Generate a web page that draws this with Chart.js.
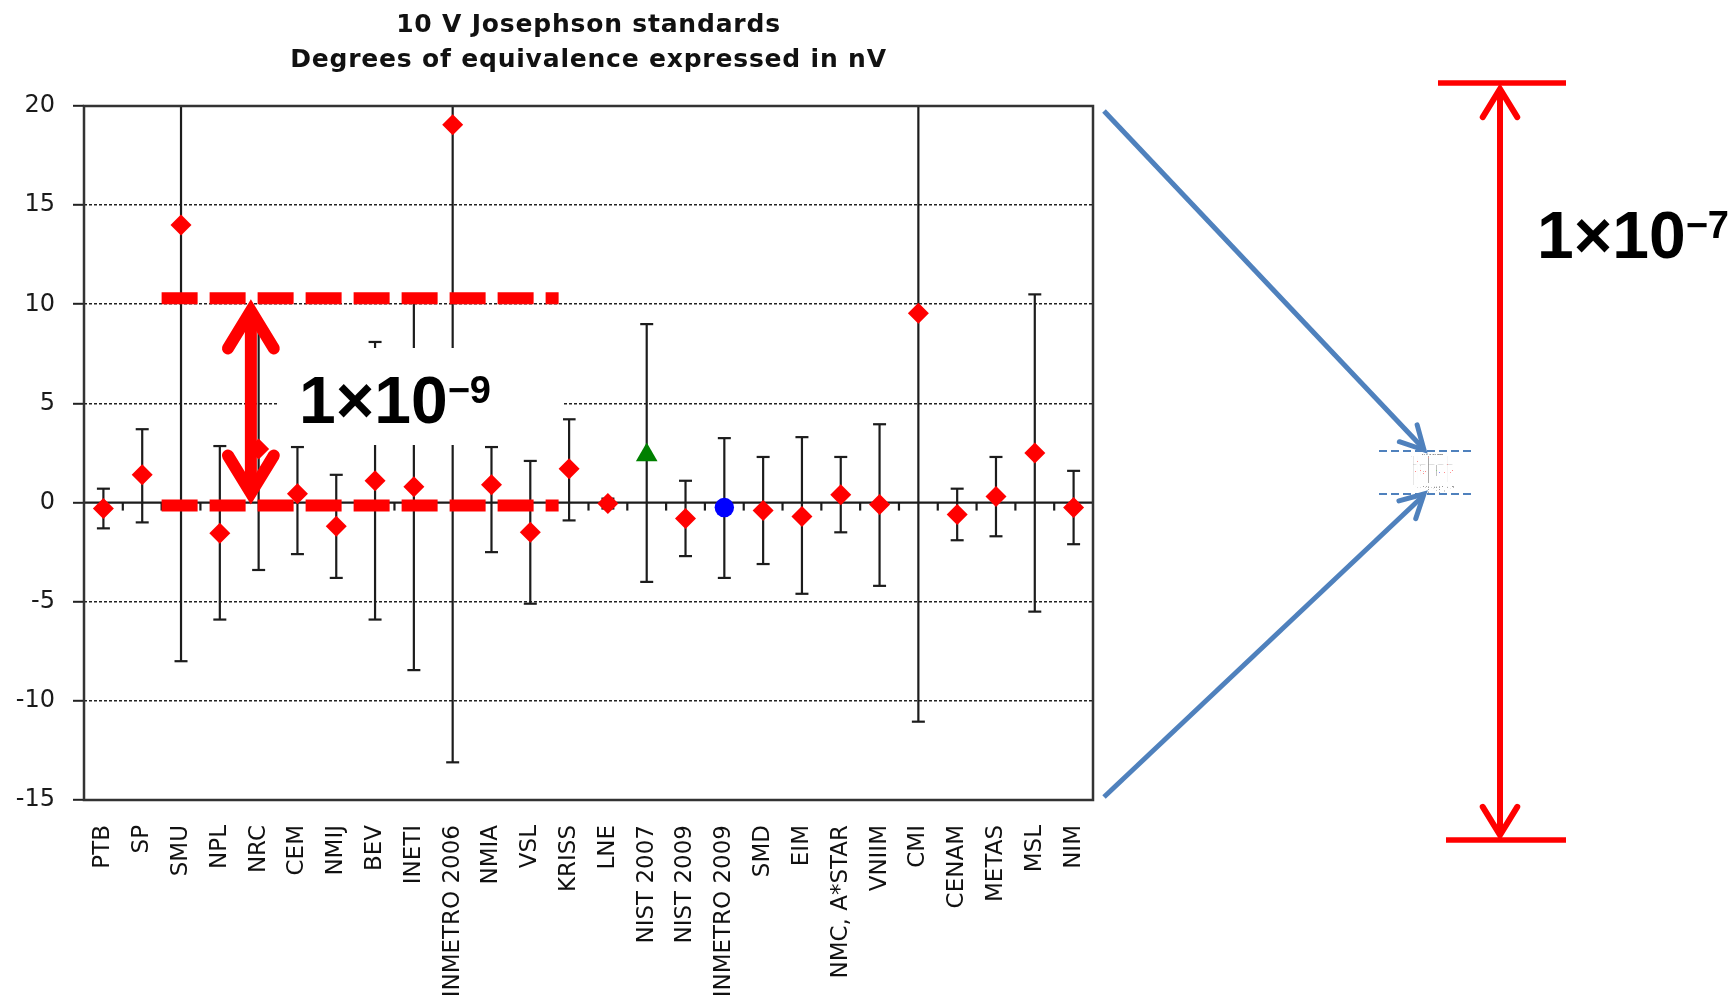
<!DOCTYPE html>
<html>
<head>
<meta charset="utf-8">
<title>10 V Josephson standards</title>
<script src="https://cdn.jsdelivr.net/npm/chart.js@4.4.0/dist/chart.umd.min.js"></script>
<style>
    html, body { margin: 0; padding: 0; background: #fff; }
    canvas { display: block; }
</style>
</head>
<body>
<canvas id="doe-chart" width="1735" height="1000" style="width:1735px;height:1000px"></canvas>
<script>
const labels = [
    'PTB', 'SP', 'SMU', 'NPL', 'NRC', 'CEM', 'NMIJ', 'BEV', 'INETI', 'INMETRO 2006',
    'NMIA', 'VSL', 'KRISS', 'LNE', 'NIST 2007', 'NIST 2009', 'INMETRO 2009', 'SMD',
    'EIM', 'NMC, A*STAR', 'VNIIM', 'CMI', 'CENAM', 'METAS', 'MSL', 'NIM'
];

// degrees of equivalence, nV
const values = [
    -0.3, 1.4, 14.0, -1.55, 2.7, 0.45, -1.2, 1.1, 0.8, 19.05,
    0.9, -1.5, 1.7, -0.05, 2.4, -0.8, -0.25, -0.4,
    -0.7, 0.4, -0.1, 9.55, -0.6, 0.3, 2.5, -0.25
];

// error bar limits (low / high)
const errLow = [
    -1.3, -1.0, -8.0, -5.9, -3.4, -2.6, -3.8, -5.9, -8.45, -13.1,
    -2.5, -5.1, -0.9, -0.3, -4.0, -2.7, -3.8, -3.1,
    -4.6, -1.5, -4.2, -11.05, -1.9, -1.7, -5.5, -2.1
];
const errHigh = [
    0.7, 3.7, 36.0, 2.85, 8.8, 2.8, 1.4, 8.1, 10.1, 51.0,
    2.8, 2.1, 4.2, 0.2, 9.0, 1.1, 3.25, 2.3,
    3.3, 2.3, 3.95, 30.0, 0.7, 2.3, 10.5, 1.6
];

// marker per lab
const markers = labels.map((l, i) => i === 14 ? 'triangle' : (i === 16 ? 'circle' : 'diamond'));

const yTicks = [-15, -10, -5, 0, 5, 10, 15, 20];

const titleLines = ['10 V Josephson standards', 'Degrees of equivalence expressed in nV'];

// red dashed band drawn on the chart (nV)
const bandTop = 10.3;
const bandBottom = -0.15;

const markerStyle = { diamond: 'rectRot', triangle: 'triangle', circle: 'circle' };
const markerColor = { diamond: '#ff0000', triangle: '#008000', circle: '#0000ff' };
const markerRadius = { diamond: 10.5, triangle: 12.5, circle: 9.7 };

function line(ctx, x1, y1, x2, y2) {
    ctx.beginPath();
    ctx.moveTo(x1, y1);
    ctx.lineTo(x2, y2);
    ctx.stroke();
}

function chevron(ctx, tipX, tipY, back, spread, len) {
    ctx.beginPath();
    ctx.moveTo(tipX + len * Math.cos(back - spread), tipY + len * Math.sin(back - spread));
    ctx.lineTo(tipX, tipY);
    ctx.lineTo(tipX + len * Math.cos(back + spread), tipY + len * Math.sin(back + spread));
    ctx.stroke();
}

function drawZeroAxisAndErrors(chart) {
    const ctx = chart.ctx;
    const area = chart.chartArea;
    const xs = chart.scales.x;
    const ys = chart.scales.y;

    ctx.save();
    ctx.strokeStyle = '#1c1c1c';
    ctx.lineWidth = 2.2;
    const y0 = ys.getPixelForValue(0);
    line(ctx, area.left, y0, area.right, y0);
    for (let k = 1; k < labels.length; k++) {
        const xb = (xs.getPixelForValue(k - 1) + xs.getPixelForValue(k)) / 2;
        line(ctx, xb, y0, xb, y0 + 8);
    }

    ctx.beginPath();
    ctx.rect(area.left, area.top, area.right - area.left, area.bottom - area.top);
    ctx.clip();
    labels.forEach((l, i) => {
        const x = xs.getPixelForValue(i);
        const yl = ys.getPixelForValue(errLow[i]);
        const yh = ys.getPixelForValue(errHigh[i]);
        line(ctx, x, yl, x, yh);
        line(ctx, x - 6.5, yl, x + 6.5, yl);
        line(ctx, x - 6.5, yh, x + 6.5, yh);
    });
    ctx.restore();
}

function drawFrameAndTitle(chart) {
    const ctx = chart.ctx;
    const area = chart.chartArea;
    ctx.save();
    ctx.strokeStyle = '#333';
    ctx.lineWidth = 2.5;
    ctx.strokeRect(area.left, area.top, area.right - area.left, area.bottom - area.top);

    ctx.fillStyle = '#111';
    ctx.font = 'bold 25px "DejaVu Sans"';
    ctx.letterSpacing = '0.8px';
    ctx.textAlign = 'center';
    ctx.textBaseline = 'middle';
    const cx = (area.left + area.right) / 2;
    ctx.fillText(titleLines[0], cx, 25);
    ctx.fillText(titleLines[1], cx, 60);
    ctx.restore();
}

function drawPower(ctx, x, baseline, exp) {
    ctx.fillStyle = '#000';
    ctx.textAlign = 'left';
    ctx.textBaseline = 'alphabetic';
    ctx.font = 'bold 66px "Liberation Sans"';
    ctx.fillText('1×10', x, baseline);
    const w = ctx.measureText('1×10').width;
    ctx.font = 'bold 38px "Liberation Sans"';
    ctx.fillText('−' + exp, x + w, baseline - 20);
}

function drawAnnotations(chart) {
    const ctx = chart.ctx;
    const xs = chart.scales.x;
    const ys = chart.scales.y;

    // small copy of the chart, as seen from far away
    ctx.save();
    ctx.globalAlpha = 0.45;
    ctx.drawImage(chart.canvas, 0, 0, 1100, 1000, 1410, 452, 45, 41);
    ctx.restore();

    ctx.save();
    // white label box
    ctx.fillStyle = '#fff';
    ctx.fillRect(278, 348, 285, 97);

    // red dashed band
    const yTop = ys.getPixelForValue(bandTop);
    const yBot = ys.getPixelForValue(bandBottom);
    const xStart = xs.getPixelForValue(1.5);
    const xEnd = xStart + 397;
    ctx.strokeStyle = '#ff0000';
    ctx.lineWidth = 12;
    ctx.lineCap = 'butt';
    ctx.setLineDash([36, 12]);
    line(ctx, xStart, yTop, xEnd, yTop);
    line(ctx, xStart, yBot, xEnd, yBot);
    ctx.setLineDash([]);

    // red double arrow
    const ax = xs.getPixelForValue(3.8);
    ctx.lineWidth = 12;
    line(ctx, ax, yTop + 12, ax, yBot - 12);
    ctx.lineCap = 'round';
    ctx.lineJoin = 'miter';
    ctx.miterLimit = 10;
    const spread = Math.atan2(22, 36);
    chevron(ctx, ax, yTop + 12.5, Math.PI / 2, spread, 44);
    chevron(ctx, ax, yBot - 12.5, -Math.PI / 2, spread, 44);

    drawPower(ctx, 299, ys.getPixelForValue(4), '9');

    // blue zoom lines
    ctx.strokeStyle = '#4f81bd';
    ctx.lineWidth = 5;
    ctx.lineCap = 'butt';
    ctx.lineJoin = 'miter';
    line(ctx, 1104, 111, 1422, 447);
    line(ctx, 1104, 797, 1422, 497);
    ctx.lineCap = 'round';
    chevron(ctx, 1424, 450, Math.atan2(111 - 450, 1104 - 1424), 0.49, 26);
    chevron(ctx, 1424, 494, Math.atan2(797 - 494, 1104 - 1424), 0.49, 26);

    ctx.lineWidth = 2;
    ctx.lineCap = 'butt';
    ctx.setLineDash([8, 4]);
    line(ctx, 1379, 451, 1473, 451);
    line(ctx, 1379, 494, 1473, 494);
    ctx.setLineDash([]);

    // red scale arrow on the right
    ctx.strokeStyle = '#ff0000';
    ctx.lineWidth = 5.5;
    line(ctx, 1438, 83, 1566, 83);
    line(ctx, 1446, 840, 1566, 840);
    ctx.lineWidth = 6;
    line(ctx, 1500, 90, 1500, 834);
    ctx.lineCap = 'round';
    chevron(ctx, 1500, 89, Math.PI / 2, 0.55, 33);
    chevron(ctx, 1500, 835, -Math.PI / 2, 0.55, 33);

    drawPower(ctx, 1537, 258, '7');
    ctx.restore();
}

const overlayPlugin = {
    id: 'overlay',
    beforeDatasetsDraw(chart) {
        drawZeroAxisAndErrors(chart);
    },
    afterDraw(chart) {
        drawFrameAndTitle(chart);
        drawAnnotations(chart);
    }
};

function buildChart() {
    const ctx = document.getElementById('doe-chart').getContext('2d');
    return new Chart(ctx, {
        type: 'line',
        data: {
            labels: labels,
            datasets: [{
                data: values,
                showLine: false,
                pointStyle: markers.map(m => markerStyle[m]),
                pointBackgroundColor: markers.map(m => markerColor[m]),
                pointBorderColor: markers.map(m => markerColor[m]),
                pointBorderWidth: 0,
                pointRadius: markers.map(m => markerRadius[m]),
                clip: false
            }]
        },
        options: {
            responsive: false,
            animation: false,
            events: [],
            layout: { padding: { left: 0, top: 106, right: 642, bottom: 0 } },
            plugins: {
                legend: { display: false },
                title: { display: false },
                tooltip: { enabled: false }
            },
            scales: {
                x: {
                    type: 'category',
                    offset: true,
                    grid: { display: false },
                    border: { display: false },
                    ticks: {
                        autoSkip: false,
                        minRotation: 90,
                        maxRotation: 90,
                        padding: 17,
                        color: '#111',
                        font: { family: '"DejaVu Sans"', size: 23 }
                    },
                    afterFit(scale) { scale.height = 200; }
                },
                y: {
                    min: yTicks[0],
                    max: yTicks[yTicks.length - 1],
                    afterBuildTicks(scale) {
                        scale.ticks = yTicks.map(v => ({ value: v }));
                    },
                    grid: {
                        color: c => (c.tick && (c.tick.value === 0 || c.tick.value === 20 || c.tick.value === -15)) ? 'rgba(0,0,0,0)' : '#222',
                        lineWidth: 1.6,
                        drawTicks: true,
                        tickLength: 11,
                        tickWidth: 2,
                        tickColor: '#222'
                    },
                    border: { display: false, dash: [3, 2] },
                    ticks: {
                        padding: 18,
                        color: '#1a1a1a',
                        font: { family: '"DejaVu Sans"', size: 24 }
                    },
                    afterFit(scale) { scale.width = 84; }
                }
            }
        },
        plugins: [overlayPlugin]
    });
}

document.addEventListener('DOMContentLoaded', buildChart);
</script>
</body>
</html>
